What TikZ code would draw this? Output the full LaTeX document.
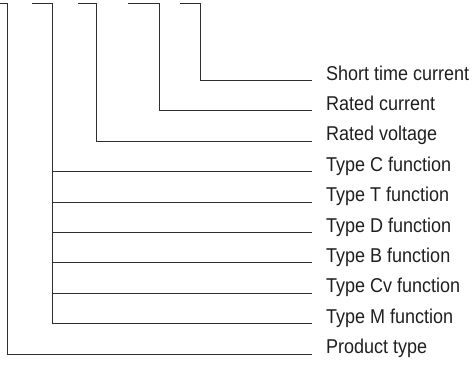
\documentclass[tikz,border=0pt]{standalone}
\usepackage{fontspec}
\newfontfamily\lblfont[FakeStretch=0.9]{Liberation Sans}
\begin{document}
\begin{tikzpicture}[x=1pt,y=-1pt,
  wire/.style={draw=black!82,line width=1pt},
  lbl/.style={anchor=base west,inner sep=0pt,text=black!88,
    font=\lblfont\fontsize{20}{20}\selectfont}]
\useasboundingbox (0,0) rectangle (476,364);
% labels
\node[lbl] (l1)  at (326,80)    {Short time current};
\node[lbl] (l2)  at (326,110.4) {Rated current};
\node[lbl] (l3)  at (326,140.8) {Rated voltage};
\node[lbl] (l4)  at (326,171.2) {Type C function};
\node[lbl] (l5)  at (326,201.6) {Type T function};
\node[lbl] (l6)  at (326,232)   {Type D function};
\node[lbl] (l7)  at (326,262.4) {Type B function};
\node[lbl] (l8)  at (326,292.8) {Type Cv function};
\node[lbl] (l9)  at (326,323.2) {Type M function};
\node[lbl] (l10) at (326,353.6) {Product type};
% line ends before labels
\foreach \i in {1,...,10}{\coordinate (e\i) at ([xshift=-14pt,yshift=-0.5pt]l\i.base west);}
% top starts and corners
\coordinate (t1) at (0,3.5);   \coordinate (k1) at (7.5,3.5);
\coordinate (t2) at (32,3.5);  \coordinate (k2) at (52,3.5);
\coordinate (t3) at (78,3.5);  \coordinate (k3) at (96,3.5);
\coordinate (t4) at (128,3.5); \coordinate (k4) at (159,3.5);
\coordinate (t5) at (180,3.5); \coordinate (k5) at (200,3.5);
% brackets
\draw[wire] (t5) -- (k5) |- (e1);
\draw[wire] (t4) -- (k4) |- (e2);
\draw[wire] (t3) -- (k3) |- (e3);
\draw[wire] (t2) -- (k2) |- (e9);
\foreach \i in {4,...,8}{\draw[wire] (k2 |- e\i) -- (e\i);}
\draw[wire] (t1) -- (k1) |- (e10);
\end{tikzpicture}
\end{document}
